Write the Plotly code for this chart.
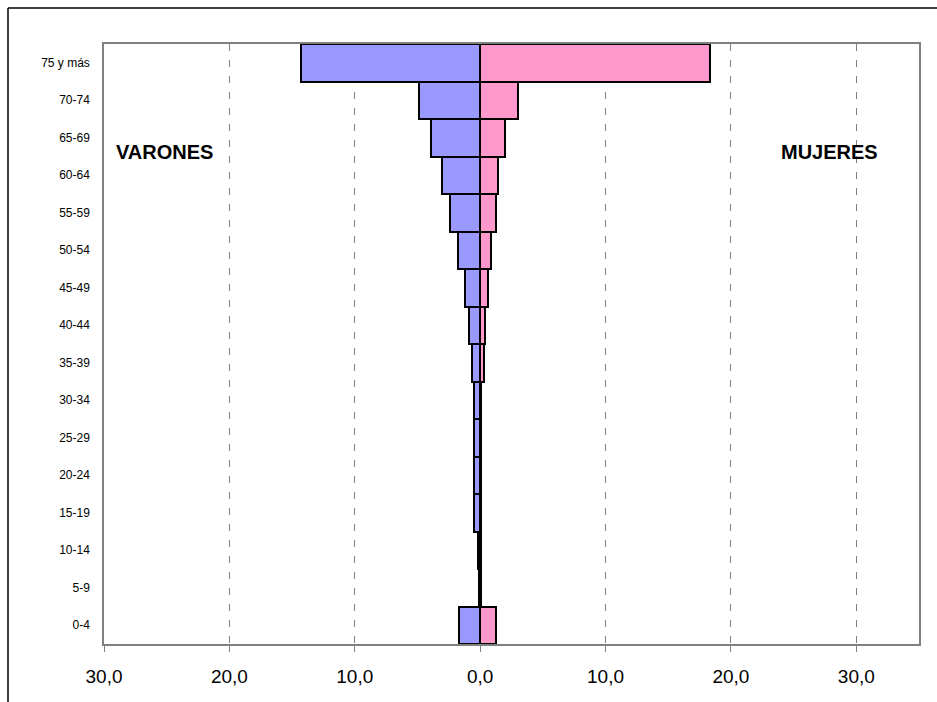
import plotly.graph_objects as go

# Age groups, oldest at the top
age_groups = ["75 y más", "70-74", "65-69", "60-64", "55-59", "50-54", "45-49",
              "40-44", "35-39", "30-34", "25-29", "20-24", "15-19", "10-14",
              "5-9", "0-4"]

# Percentage of population by sex and age group
varones = [14.3, 4.85, 3.9, 3.05, 2.4, 1.8, 1.2, 0.87, 0.68, 0.53, 0.52,
           0.52, 0.52, 0.15, 0.12, 1.65]
mujeres = [18.35, 3.0, 2.0, 1.4, 1.23, 0.9, 0.62, 0.41, 0.27, 0.1, 0.1,
           0.1, 0.1, 0.05, 0.03, 1.23]

tick_values = [-30, -20, -10, 0, 10, 20, 30]
tick_labels = ["30,0", "20,0", "10,0", "0,0", "10,0", "20,0", "30,0"]

W, H = 937, 702
L, R, T, B = 104, 18, 44, 58
plot_w = W - L - R
plot_h = H - T - B

fig = go.Figure()
fig.add_trace(go.Bar(
    y=age_groups, x=[-v for v in varones], orientation="h", name="Varones",
    marker=dict(color="#9999FF", line=dict(color="black", width=2)),
))
fig.add_trace(go.Bar(
    y=age_groups, x=mujeres, orientation="h", name="Mujeres",
    marker=dict(color="#FF99CC", line=dict(color="black", width=2)),
))

fig.update_layout(
    width=W, height=H,
    margin=dict(l=L, r=R, t=T, b=B, pad=0),
    barmode="relative", bargap=0,
    paper_bgcolor="white", plot_bgcolor="white",
    showlegend=False,
    font=dict(family="Liberation Sans, Arial, sans-serif", color="black"),
)

fig.update_xaxes(
    range=[-30, 35],
    tickvals=tick_values, ticktext=tick_labels,
    tickfont=dict(size=19, family="Liberation Sans, Arial, sans-serif"),
    ticks="outside", ticklen=6, tickcolor="#808080", tickwidth=1,
    ticklabelstandoff=8,
    showgrid=True, gridcolor="#808080", gridwidth=1, griddash="7px,9px",
    zeroline=False,
    showline=True, linecolor="#808080", linewidth=1.5, mirror=True,
)
fig.update_yaxes(
    type="category", categoryorder="array", categoryarray=age_groups[::-1],
    tickfont=dict(size=12, family="Liberation Sans, Arial, sans-serif"),
    ticks="", ticklabelstandoff=10,
    showgrid=False, zeroline=False,
    showline=True, linecolor="#808080", linewidth=1.5, mirror=True,
)

# Sex labels inside the chart
label_y = 1 - (139 - T) / plot_h
fig.add_annotation(x=-25.2, y=label_y, xref="x", yref="paper",
                   text="<b>VARONES</b>", showarrow=False,
                   font=dict(size=20, family="Liberation Sans, Arial, sans-serif"))
fig.add_annotation(x=27.9, y=label_y, xref="x", yref="paper",
                   text="<b>MUJERES</b>", showarrow=False,
                   font=dict(size=20, family="Liberation Sans, Arial, sans-serif"))

# Outer frame (left and top edges)
fx = (8 - L) / plot_w
fy = 1 + (T - 8) / plot_h
fig.add_shape(type="line", xref="paper", yref="paper",
              x0=fx, y0=fy, x1=fx, y1=-0.2, line=dict(color="black", width=1.5))
fig.add_shape(type="line", xref="paper", yref="paper",
              x0=fx, y0=fy, x1=1.2, y1=fy, line=dict(color="black", width=1.5))

fig.write_html("out.html")
